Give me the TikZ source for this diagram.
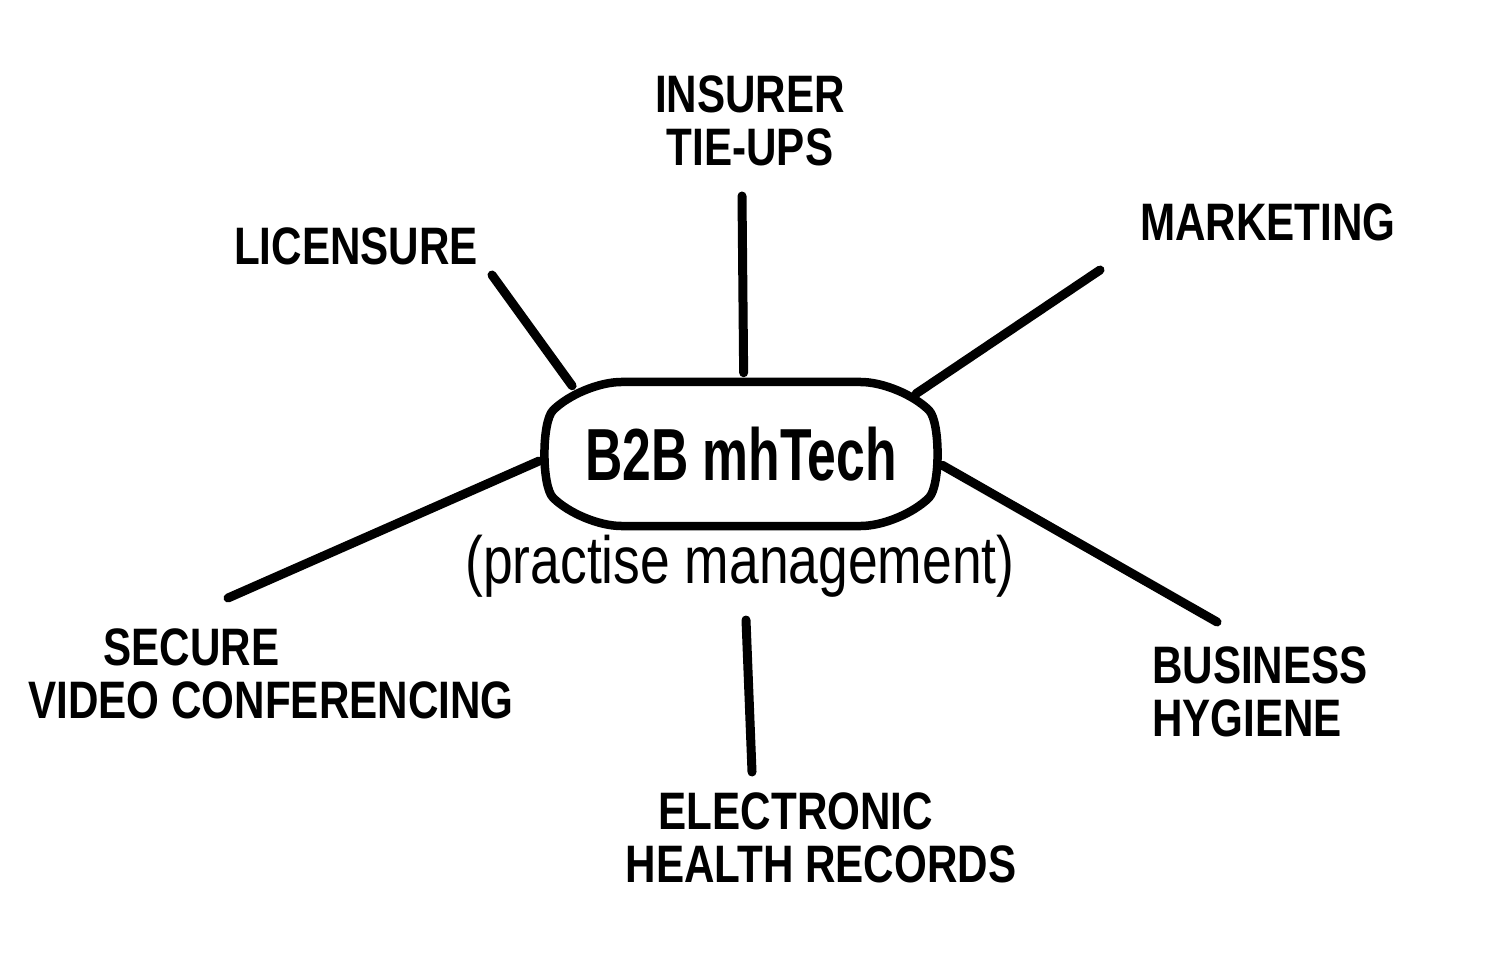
\documentclass[tikz,border=0pt]{standalone}
\usepackage{fontspec}
\usepackage{tikz}
\usetikzlibrary{shapes.misc}
\newfontfamily\hand[FakeStretch=0.8]{Liberation Sans}
\newfontfamily\handnarrow[FakeStretch=0.7]{Liberation Sans}

\begin{document}
\begin{tikzpicture}[x=0.1mm, y=-0.1mm,
	spoke/.style={line width=0.9mm, line cap=round},
	topic/.style={font=\hand\bfseries\fontsize{15}{15}\selectfont, inner sep=1pt}]
	\useasboundingbox (0,0) rectangle (1495,964);
	\node[draw, line width=0.85mm, rounded rectangle, rounded rectangle arc length=90,
		rounded corners=4mm, minimum width=3.79cm, minimum height=1.44cm, inner sep=0pt,
		font=\handnarrow\bfseries\fontsize{21}{21}\selectfont] (hub) at (741,454) {B2B mhTech};
	\node[font=\hand\fontsize{19}{19}\selectfont] (sub) at (740,566) {(practise management)};
	\node[topic, align=center] (ins) at (750,121) {INSURER\\TIE-UPS};
	\node[topic] (lic) at (356,246) {LICENSURE};
	\node[topic] (mkt) at (1268,222) {MARKETING};
	\node[topic, align=left] (sec) at (271,674) {\hspace*{7.5mm}SECURE\\VIDEO CONFERENCING};
	\node[topic, align=left] (bus) at (1260,692) {BUSINESS\\HYGIENE};
	\node[topic, align=left] (ehr) at (821,838) {\hspace*{3.3mm}ELECTRONIC\\HEALTH RECORDS};
	\coordinate (insE) at (742,196);
	\coordinate (licE) at (492,275);
	\coordinate (mktE) at (1100,270);
	\coordinate (secE) at (228,598);
	\coordinate (busE) at (1217,622);
	\coordinate (ehrS) at (746,620);
	\coordinate (ehrE) at (752,772);
	\draw[spoke, shorten <=0.5mm] (hub.88) -- (insE);
	\draw[spoke] (hub.158) -- (licE);
	\draw[spoke] (hub.19) -- (mktE);
	\draw[spoke, shorten <=0.9mm] (hub.181) -- (secE);
	\draw[spoke, shorten <=0.9mm] (hub.358) -- (busE);
	\draw[spoke] (ehrS) -- (ehrE);
\end{tikzpicture}
\end{document}
